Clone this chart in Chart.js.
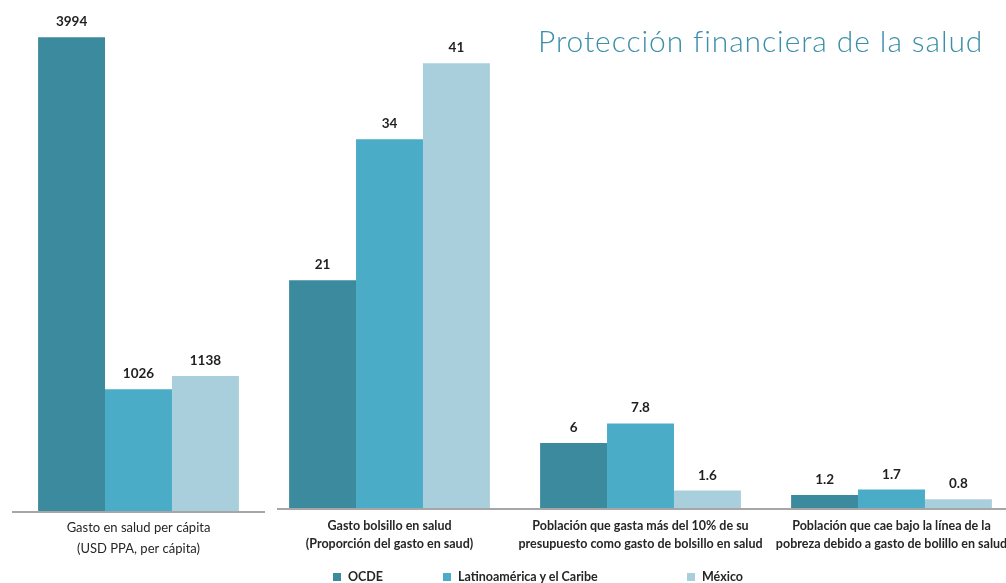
<!DOCTYPE html>
<html lang="es">
<head>
<meta charset="utf-8">
<title>Protección financiera de la salud</title>
<script src="https://cdn.jsdelivr.net/npm/chart.js@4.4.1/dist/chart.umd.min.js"></script>
<style>
  html, body { margin: 0; padding: 0; background: #fff; overflow: hidden; width: 1006px; height: 583px; }
  #wrap { position: relative; width: 1030px; height: 583px; }
  #chart { position: absolute; left: 0; top: 0; }
  #title { position: absolute; left: 538px; top: 25px; font-family: Lato, sans-serif; font-weight: 300;
           font-size: 30px; letter-spacing: 0.9px; line-height: 1; color: #3a8fa9; white-space: nowrap; }
  #legend { position: absolute; left: 333px; top: 570px; display: flex; font-family: Lato, sans-serif;
            font-weight: 700; font-size: 12.5px; line-height: 14px; color: #262626; }
  .item { display: flex; align-items: center; white-space: nowrap; }
  .item:nth-child(1) { width: 110px; }
  .item:nth-child(2) { width: 244px; }
  .swatch { width: 8px; height: 8px; margin-right: 7px; }
</style>
</head>
<body>
<div id="wrap">
  <canvas id="chart" width="1030" height="583"></canvas>
  <div id="title">Protección financiera de la salud</div>
  <div id="legend"></div>
</div>
<script>
// Indicator groups (two-line axis labels)
const categories = [
  ['Gasto en salud per cápita', '(USD PPA, per cápita)'],
  ['Gasto bolsillo en salud', '(Proporción del gasto en saud)'],
  ['Población que gasta más del 10% de su', 'presupuesto como gasto de bolsillo en salud'],
  ['Población que cae bajo la línea de la', 'pobreza debido a gasto de bolillo en salud']
];
const seriesNames = ['OCDE', 'Latinoamérica y el Caribe', 'México'];
const ocde   = [3994, 21, 6, 1.2];
const latam  = [1026, 34, 7.8, 1.7];
const mexico = [1138, 41, 1.6, 0.8];
const seriesColors = ['#3b8a9e', '#4aacc6', '#a9cfdd'];

const series = [ocde, latam, mexico];

// The per-capita spending group is in USD and gets its own value axis;
// the remaining groups are percentages and share a second one.
const usdSets = series.map((vals, i) => ({
  label: seriesNames[i],
  data: vals.map((v, j) => (j === 0 ? v : null)),
  yAxisID: 'yUsd',
  backgroundColor: seriesColors[i]
}));
const pctSets = series.map((vals, i) => ({
  label: seriesNames[i],
  data: vals.map((v, j) => (j === 0 ? null : v)),
  yAxisID: 'yPct',
  backgroundColor: seriesColors[i]
}));

// Legend
const legendEl = document.getElementById('legend');
seriesNames.forEach((name, i) => {
  const item = document.createElement('div');
  item.className = 'item';
  const sw = document.createElement('span');
  sw.className = 'swatch';
  sw.style.background = seriesColors[i];
  const tx = document.createElement('span');
  tx.textContent = name;
  item.appendChild(sw);
  item.appendChild(tx);
  legendEl.appendChild(item);
});

// Value printed above every bar
const valueLabels = {
  id: 'valueLabels',
  afterDatasetsDraw(chart) {
    const ctx = chart.ctx;
    ctx.save();
    ctx.font = 'bold 13.5px Lato, sans-serif';
    ctx.fillStyle = '#1f1f1f';
    ctx.textAlign = 'center';
    ctx.textBaseline = 'alphabetic';
    chart.data.datasets.forEach((ds, i) => {
      const meta = chart.getDatasetMeta(i);
      meta.data.forEach((bar, j) => {
        const v = ds.data[j];
        if (v === null || v === undefined) return;
        ctx.fillText(String(v), bar.x, bar.y - 11);
      });
    });
    ctx.restore();
  }
};

// Separate baseline for the USD group and for the percentage groups
const baselines = {
  id: 'baselines',
  beforeDatasetsDraw(chart) {
    const { ctx, chartArea, scales: { x, yUsd, yPct } } = chart;
    const half = (x.getPixelForValue(1) - x.getPixelForValue(0)) / 2;
    const split = x.getPixelForValue(0) + half;
    ctx.save();
    ctx.strokeStyle = '#a6a6a6';
    ctx.lineWidth = 2;
    ctx.beginPath();
    const y1 = Math.round(yUsd.getPixelForValue(0)) + 1;
    ctx.moveTo(chartArea.left - 1, y1);
    ctx.lineTo(split + 1, y1);
    const y2 = Math.round(yPct.getPixelForValue(0)) + 1;
    ctx.moveTo(split + 13, y2);
    ctx.lineTo(chart.width, y2);
    ctx.stroke();
    ctx.restore();
  }
};

function draw() {
  new Chart(document.getElementById('chart'), {
    type: 'bar',
    data: { labels: categories, datasets: usdSets.concat(pctSets) },
    options: {
      responsive: false,
      animation: false,
      layout: { padding: { top: 20, left: 13, right: 13, bottom: 0 } },
      datasets: { bar: { skipNull: true, categoryPercentage: 0.8, barPercentage: 1, borderWidth: 0 } },
      plugins: { legend: { display: false }, tooltip: { enabled: false } },
      scales: {
        x: {
          grid: { display: false, drawTicks: false },
          border: { display: false },
          ticks: {
            autoSkip: false, maxRotation: 0, minRotation: 0, padding: 6, color: '#262626',
            font: (c) => c.index === 0
              ? { family: 'Lato', size: 13, weight: 'normal', lineHeight: 1.65 }
              : { family: 'Lato', size: 12.5, weight: 'bold', lineHeight: 1.45 }
          },
          afterFit: (s) => { s.height = 72; }
        },
        yUsd: { display: false, min: 0, max: 4140 },
        yPct: { display: false, min: -0.28, max: 45 }
      }
    },
    plugins: [baselines, valueLabels]
  });
}

Promise.all([
  document.fonts.load('bold 12px Lato'),
  document.fonts.load('12px Lato'),
  document.fonts.load('300 30px Lato')
]).then(draw, draw);
</script>
</body>
</html>
